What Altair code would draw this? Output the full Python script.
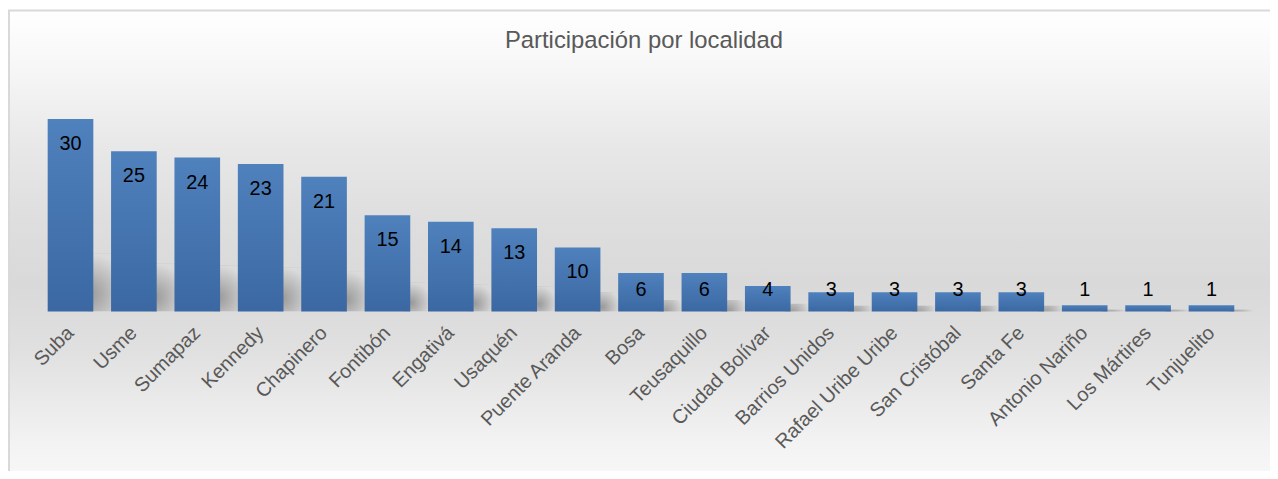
import altair as alt
import pandas as pd

categories = ["Suba", "Usme", "Sumapaz", "Kennedy", "Chapinero", "Fontibón", "Engativá",
              "Usaquén", "Puente Aranda", "Bosa", "Teusaquillo", "Ciudad Bolívar",
              "Barrios Unidos", "Rafael Uribe Uribe", "San Cristóbal", "Santa Fe",
              "Antonio Nariño", "Los Mártires", "Tunjuelito"]
values = [30, 25, 24, 23, 21, 15, 14, 13, 10, 6, 6, 4, 3, 3, 3, 3, 1, 1, 1]
title_text = "Participación por localidad"

df = pd.DataFrame({"localidad": categories, "valor": values})
bg_df = pd.DataFrame({"t": [title_text]})

W, H = 1212, 226
PL, PT, PR, PB = 31, 78, 27, 159
FONT = "Liberation Sans"

x_scale = alt.Scale(paddingInner=0.28, paddingOuter=0.14)
x_enc = alt.X("localidad:N", sort=categories, scale=x_scale,
              axis=alt.Axis(title=None, labelAngle=-45, labelAlign="right",
                            labelBaseline="middle", labelPadding=18, labelFontSize=20,
                            labelFont=FONT, labelColor="#595959", domain=False,
                            ticks=False, grid=False, labelOverlap=False, labelLimit=400,
                            zindex=1))
y_scale = alt.Scale(domain=[0, 35], nice=False, zero=True)

bg = alt.Chart(bg_df).mark_rect(
    color=alt.Gradient(
        gradient="linear", x1=0, y1=0, x2=0, y2=1,
        stops=[
            alt.GradientStop(offset=0.0, color="#ffffff"),
            alt.GradientStop(offset=0.12, color="#f6f6f6"),
            alt.GradientStop(offset=0.27, color="#e8e8e8"),
            alt.GradientStop(offset=0.42, color="#dedede"),
            alt.GradientStop(offset=0.55, color="#d9d9d9"),
            alt.GradientStop(offset=0.68, color="#e0e0e0"),
            alt.GradientStop(offset=0.79, color="#ebebeb"),
            alt.GradientStop(offset=0.87, color="#f3f3f3"),
            alt.GradientStop(offset=1.0, color="#fbfbfb"),
        ]),
    stroke="#d9d9d9", strokeWidth=2
).encode(
    x=alt.value(-PL + 1), x2=alt.value(W + PR + 40),
    y=alt.value(-PT + 1), y2=alt.value(H + PB + 40)
)

title = alt.Chart(bg_df).mark_text(
    font=FONT, fontSize=24, color="#595959", baseline="alphabetic", align="center"
).encode(
    x=alt.value(W / 2 + 3), y=alt.value(-39), text="t:N"
)

shadow = alt.Chart(df).transform_calculate(
    sh="datum.valor * 0.3"
).mark_bar(
    width=26, xOffset=30,
    color=alt.Gradient(
        gradient="radial", x1=0.3, y1=0.7, x2=0.3, y2=0.7, r1=0, r2=0.7,
        stops=[alt.GradientStop(offset=0, color="rgba(0,0,0,0.30)"),
               alt.GradientStop(offset=0.5, color="rgba(0,0,0,0.15)"),
               alt.GradientStop(offset=1, color="rgba(0,0,0,0)")])
).encode(
    x=alt.X("localidad:N", sort=categories, scale=x_scale),
    y=alt.Y("sh:Q", scale=y_scale, axis=None),
)

bars = alt.Chart(df).mark_bar(
    color=alt.Gradient(
        gradient="linear", x1=0, y1=0, x2=0, y2=1,
        stops=[alt.GradientStop(offset=0, color="#4f81bd"),
               alt.GradientStop(offset=1, color="#3b68a2")])
).encode(
    x=x_enc,
    y=alt.Y("valor:Q", scale=y_scale, axis=None),
)

labels = alt.Chart(df).transform_calculate(
    pos="max(datum.valor - 4.85, 2.48)"
).mark_text(
    font=FONT, fontSize=20, color="#000000", baseline="alphabetic", align="center"
).encode(
    x=alt.X("localidad:N", sort=categories),
    y=alt.Y("pos:Q", scale=y_scale, axis=None),
    text="valor:Q",
)

chart = alt.layer(bg, title, shadow, bars, labels).properties(
    width=W, height=H,
    padding={"left": PL, "top": PT, "right": PR, "bottom": PB},
    autosize=alt.AutoSizeParams(type="none"),
).configure_view(stroke=None).configure(background="#ffffff")

chart.save("out.html", embed_options={"renderer": "svg", "actions": False})
